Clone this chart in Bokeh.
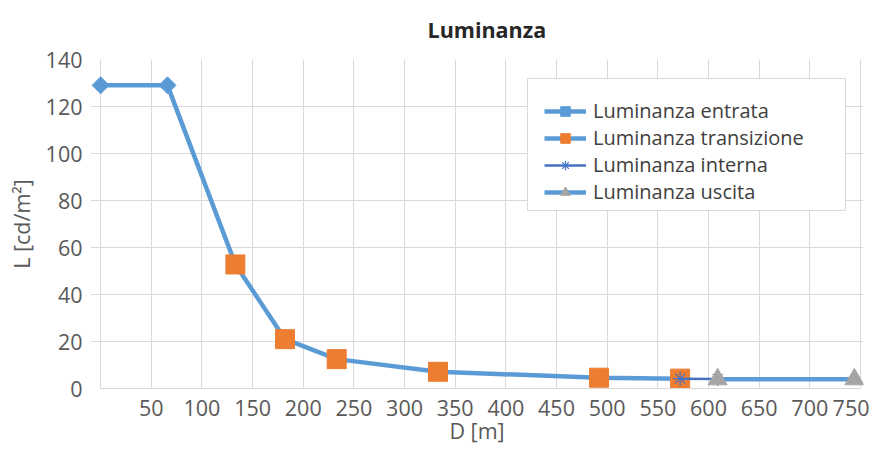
import math
from bokeh.plotting import figure
from bokeh.models import FixedTicker, Legend, LegendItem, Range1d, Title, BoxAnnotation
from bokeh.embed import file_html
from bokeh.resources import INLINE

# ---- data ----
entrata_x = [0, 66]
entrata_y = [129, 129]
transizione_x = [133, 182, 233, 333, 492, 572]
transizione_y = [52.8, 21.0, 12.5, 7.1, 4.6, 4.2]
interna_x = [572, 609]
interna_y = [4.2, 4.0]
uscita_x = [609, 744]
uscita_y = [3.9, 3.9]

x_ticks = [50, 100, 150, 200, 250, 300, 350, 400, 450, 500, 550, 600, 650, 700, 750]
x_grid = [0] + x_ticks
y_ticks = [0, 20, 40, 60, 80, 100, 120, 140]

title = "Luminanza"
names = ["Luminanza entrata", "Luminanza transizione", "Luminanza interna", "Luminanza uscita"]

BLUE = "#5B9BD5"
DARK_BLUE = "#4472C4"
ORANGE = "#ED7D31"
GRAY = "#A5A5A5"
GRID = "#D9D9D9"
TXT = "#595959"
FONT = "Open Sans"
FS = "21.5px"

p = figure(width=869, height=447, output_backend="svg", toolbar_location=None,
           x_range=Range1d(-10, 753), y_range=Range1d(0, 140),
           min_border_left=90, min_border_right=6, min_border_top=57, min_border_bottom=55)
p.outline_line_color = None
p.background_fill_color = "white"
p.border_fill_color = "white"

p.add_layout(Title(text=title, align="left", vertical_align="top", text_font=FONT,
                   text_font_size="21.5px", text_font_style="bold", text_color="#262626",
                   standoff=28, offset=337), "above")

# axes
p.xaxis.ticker = FixedTicker(ticks=x_ticks)
p.yaxis.ticker = FixedTicker(ticks=y_ticks)
for ax in (p.xaxis, p.yaxis):
    ax.major_tick_line_color = None
    ax.minor_tick_line_color = None
    ax.major_label_text_font = FONT
    ax.major_label_text_font_size = FS
    ax.major_label_text_color = TXT
    ax.axis_label_text_font = FONT
    ax.axis_label_text_font_size = FS
    ax.axis_label_text_font_style = "normal"
    ax.axis_label_text_color = TXT
p.xaxis.axis_line_color = GRID
p.xaxis.bounds = (0, 750)
p.yaxis.axis_line_color = None
p.xaxis.axis_label = "D [m]"
p.yaxis.axis_label = "L [cd/m²]"
p.xaxis.major_label_standoff = 5
p.yaxis.major_label_standoff = 2
p.xaxis.axis_label_standoff = -3
p.yaxis.axis_label_standoff = 7

p.xgrid.ticker = FixedTicker(ticks=x_grid)
p.ygrid.ticker = FixedTicker(ticks=y_ticks)
p.ygrid.bounds = (0, 750)
p.grid.grid_line_color = GRID
p.grid.grid_line_width = 1

# series
l1 = p.line(entrata_x, entrata_y, line_color=BLUE, line_width=4.5)
m1 = p.scatter(entrata_x, entrata_y, marker="square", size=12, angle=math.pi / 4,
               fill_color=BLUE, line_color=BLUE)

l2 = p.line([entrata_x[-1]] + transizione_x, [entrata_y[-1]] + transizione_y,
            line_color=BLUE, line_width=4.5)
m2 = p.scatter(transizione_x, transizione_y, marker="square", size=19,
               fill_color=ORANGE, line_color=ORANGE)

l3 = p.line(interna_x, interna_y, line_color=DARK_BLUE, line_width=2.5)
m3 = p.scatter(interna_x, interna_y, marker="asterisk", size=14,
               line_color=DARK_BLUE, line_width=1.2)

l4 = p.line(uscita_x, uscita_y, line_color=BLUE, line_width=4.5)
m4 = p.scatter(uscita_x, uscita_y, marker="triangle", size=19,
               fill_color=GRAY, line_color=GRAY)

# legend frame (screen units, relative to the plot frame)
p.add_layout(BoxAnnotation(left=437, right=755, bottom=178, top=310,
                           left_units="screen", right_units="screen",
                           bottom_units="screen", top_units="screen",
                           fill_color="white", fill_alpha=1,
                           line_color=GRID, line_width=1, line_alpha=1))

# one legend per row so that row spacing matches the reference
row_bottoms = [264, 237, 210, 183]
for name, rends, yb in zip(names, [[l1, m1], [l2, m2], [l3, m3], [l4, m4]], row_bottoms):
    lg = Legend(items=[LegendItem(label=name, renderers=rends)], location=(454, yb))
    lg.label_text_font = FONT
    lg.label_text_font_size = "20px"
    lg.label_text_color = "#404040"
    lg.glyph_width = 42
    lg.glyph_height = 24
    lg.label_standoff = 7
    lg.padding = 0
    lg.margin = 0
    lg.spacing = 0
    lg.border_line_color = None
    lg.background_fill_alpha = 0
    p.add_layout(lg, "center")

open("out.html", "w").write(file_html(p, INLINE))
